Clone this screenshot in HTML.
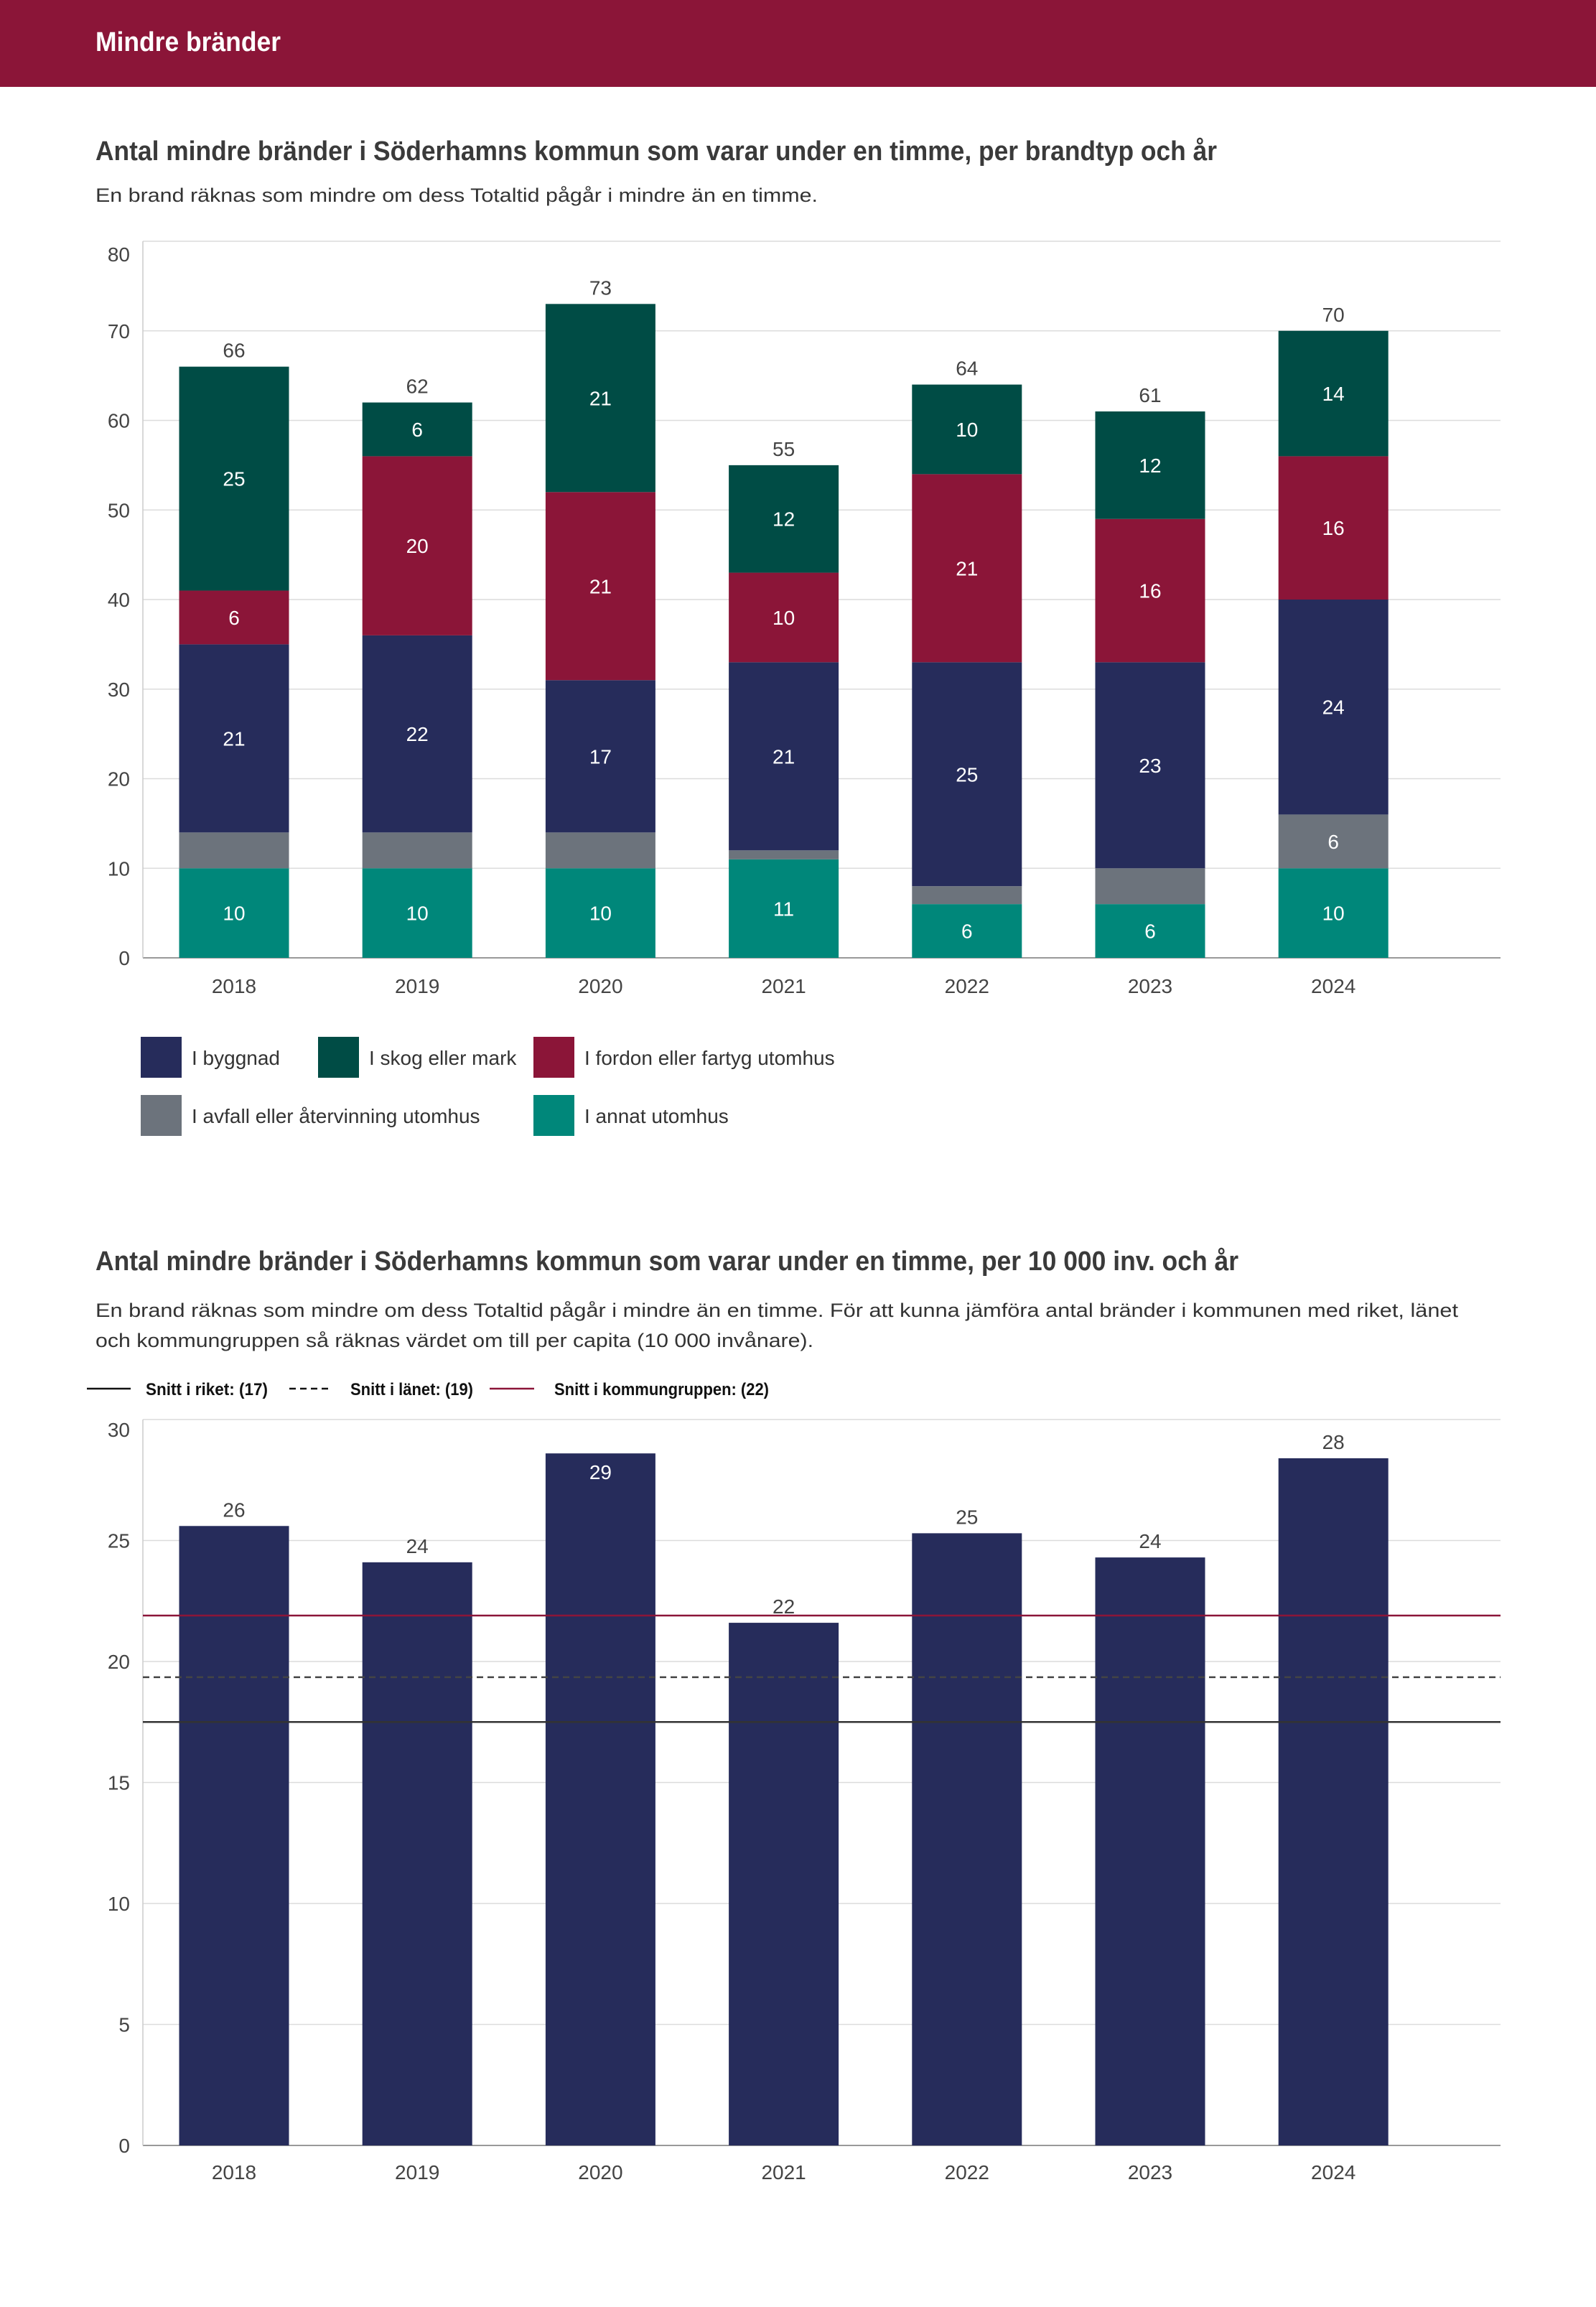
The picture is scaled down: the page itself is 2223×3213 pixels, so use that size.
<!DOCTYPE html>
<html><head><meta charset="utf-8"><style>
html,body{margin:0;padding:0;background:#fff;}
svg{display:block;font-family:"Liberation Sans",sans-serif;}
</style></head><body>
<svg id="root" width="2223" height="3213" viewBox="0 0 2223 3213" xmlns="http://www.w3.org/2000/svg">
<rect x="0" y="0" width="2223" height="121" fill="#8B1538"/>
<text x="133" y="71" font-size="38" font-weight="bold" fill="#fff" textLength="258" lengthAdjust="spacingAndGlyphs">Mindre bränder</text>
<text x="133" y="223" font-size="38" font-weight="bold" fill="#3a3a3a" textLength="1562" lengthAdjust="spacingAndGlyphs">Antal mindre bränder i Söderhamns kommun som varar under en timme, per brandtyp och år</text>
<text x="133" y="281" font-size="27" fill="#333" textLength="1006" lengthAdjust="spacingAndGlyphs">En brand räknas som mindre om dess Totaltid pågår i mindre än en timme.</text>
<g id="c1"></g>
<text x="133" y="1769" font-size="38" font-weight="bold" fill="#3a3a3a" textLength="1592" lengthAdjust="spacingAndGlyphs">Antal mindre bränder i Söderhamns kommun som varar under en timme, per 10 000 inv. och år</text>
<text x="133" y="1834" font-size="27" fill="#333" textLength="1898" lengthAdjust="spacingAndGlyphs">En brand räknas som mindre om dess Totaltid pågår i mindre än en timme. För att kunna jämföra antal bränder i kommunen med riket, länet</text>
<text x="133" y="1876" font-size="27" fill="#333" textLength="1000" lengthAdjust="spacingAndGlyphs">och kommungruppen så räknas värdet om till per capita (10 000 invånare).</text>
<g id="c2"></g>
</svg>
<script>
const years = ["2018","2019","2020","2021","2022","2023","2024"];
const annat = [10,10,10,11,6,6,10];
const avfall = [4,4,4,1,2,4,6];
const byggnad = [21,22,17,21,25,23,24];
const fordon = [6,20,21,10,21,16,16];
const skog = [25,6,21,12,10,12,14];
const ticks1 = [0,10,20,30,40,50,60,70,80];
const perCapita = [25.6,24.1,28.6,21.6,25.3,24.3,28.4];
const perCapitaLabels = ["26","24","29","22","25","24","28"];
const ticks2 = [0,5,10,15,20,25,30];
const refRiket = 17.5;
const refLanet = 19.35;
const refGrupp = 21.9;

const NS="http://www.w3.org/2000/svg";
function mk(parent,tag,attrs,txt){const e=document.createElementNS(NS,tag);for(const k in attrs)e.setAttribute(k,attrs[k]);if(txt!==undefined)e.textContent=txt;parent.appendChild(e);return e;}
const X0=199,X1=2090,BW=153;
function xc(i){return 326+i*255.2;}

// chart 1
const c1=document.getElementById('c1');
const y1=v=>1334-v*12.475;
ticks1.forEach((t,i)=>{
  const g=mk(c1,'line',{x1:X0,x2:X1,y1:y1(t),y2:y1(t),stroke:t===0?'#999':'#dcdcdc','stroke-width':t===0?2:1.5});
  
  
  const l=mk(c1,'text',{x:181,y:y1(t)+(t===80?28:10),'font-size':28,fill:'#444','text-anchor':'end'},String(t));
  
  
});
const ax=mk(c1,'line',{x1:X0,x2:X0,y1:y1(80),y2:1334,stroke:'#ccc','stroke-width':1.5});


const series=[["annat",annat,"#00877A"],["avfall",avfall,"#6C737C"],["byggnad",byggnad,"#262C5B"],["fordon",fordon,"#8B1538"],["skog",skog,"#004C45"]];
years.forEach((yr,i)=>{
  let acc=0;
  series.forEach(([nm,arr,col])=>{
    const v=arr[i];
    const r=mk(c1,'rect',{x:xc(i)-BW/2,y:y1(acc+v),width:BW,height:y1(acc)-y1(acc+v),fill:col});
    
    
    if(v>=5){
      const t=mk(c1,'text',{x:xc(i),y:(y1(acc)+y1(acc+v))/2+10,'font-size':28,fill:'#fff','text-anchor':'middle'},String(v));
      
      
    }
    acc+=v;
  });
  const tt=mk(c1,'text',{x:xc(i),y:y1(acc)-13,'font-size':28,fill:'#444','text-anchor':'middle'},String(acc));
  
  
  const xl=mk(c1,'text',{x:xc(i),y:1383,'font-size':28,fill:'#444','text-anchor':'middle'},yr);
  
  
});
const legend=[["I byggnad","#262C5B",196,1444],["I skog eller mark","#004C45",443,1444],["I fordon eller fartyg utomhus","#8B1538",743,1444],["I avfall eller återvinning utomhus","#6C737C",196,1525],["I annat utomhus","#00877A",743,1525]];
legend.forEach(([lab,col,lx,ly])=>{
  const s=mk(c1,'rect',{x:lx,y:ly,width:57,height:57,fill:col});
  
  
  const t=mk(c1,'text',{x:lx+71,y:ly+39,'font-size':28,fill:'#333'},lab);
  
  
});

// chart 2
const c2=document.getElementById('c2');
const y2=v=>2988-v*33.7;
ticks2.forEach(t=>{
  const g=mk(c2,'line',{x1:X0,x2:X1,y1:y2(t),y2:y2(t),stroke:t===0?'#999':'#dcdcdc','stroke-width':t===0?2:1.5});
  
  
  const l=mk(c2,'text',{x:181,y:y2(t)+(t===30?24:10),'font-size':28,fill:'#444','text-anchor':'end'},String(t));
  
  
});
const ax2=mk(c2,'line',{x1:X0,x2:X0,y1:y2(30),y2:2988,stroke:'#ccc','stroke-width':1.5});


years.forEach((yr,i)=>{
  const v=perCapita[i];
  const r=mk(c2,'rect',{x:xc(i)-BW/2,y:y2(v),width:BW,height:2988-y2(v),fill:'#262C5B'});
  
  
  const inside=y2(v)-50<y2(30);
  const t=mk(c2,'text',{x:xc(i),y:inside?y2(v)+36:y2(v)-13,'font-size':28,fill:inside?'#fff':'#444','text-anchor':'middle'},perCapitaLabels[i]);
  
  
  const xl=mk(c2,'text',{x:xc(i),y:3035,'font-size':28,fill:'#444','text-anchor':'middle'},yr);
  
  
});
const refs=[[refRiket,'#333',null,'riket'],[refLanet,'#444','9,6','lanet'],[refGrupp,'#8B1538',null,'kommungrupp']];
refs.forEach(([v,col,dash,nm])=>{
  const a={x1:X0,x2:X1,y1:y2(v),y2:y2(v),stroke:col,'stroke-width':2.5};
  if(dash)a['stroke-dasharray']=dash;
  const l=mk(c2,'line',a);
  
  
});
const leg2=[[121,182,'#111',null,203,170,'Snitt i riket: (17)'],[403,463,'#111','9,6',488,171,'Snitt i länet: (19)'],[682,744,'#8B1538',null,772,299,'Snitt i kommungruppen: (22)']];
leg2.forEach(([a,b,col,dash,tx,tw,lab])=>{
  const at={x1:a,x2:b,y1:1934,y2:1934,stroke:col,'stroke-width':2.5};
  if(dash)at['stroke-dasharray']=dash;
  const l=mk(c2,'line',at);
  
  
  const t=mk(c2,'text',{x:tx,y:1943,'font-size':24,'font-weight':'bold',fill:'#111',textLength:tw,lengthAdjust:'spacingAndGlyphs'},lab);
  
  
});
</script>
</body></html>
